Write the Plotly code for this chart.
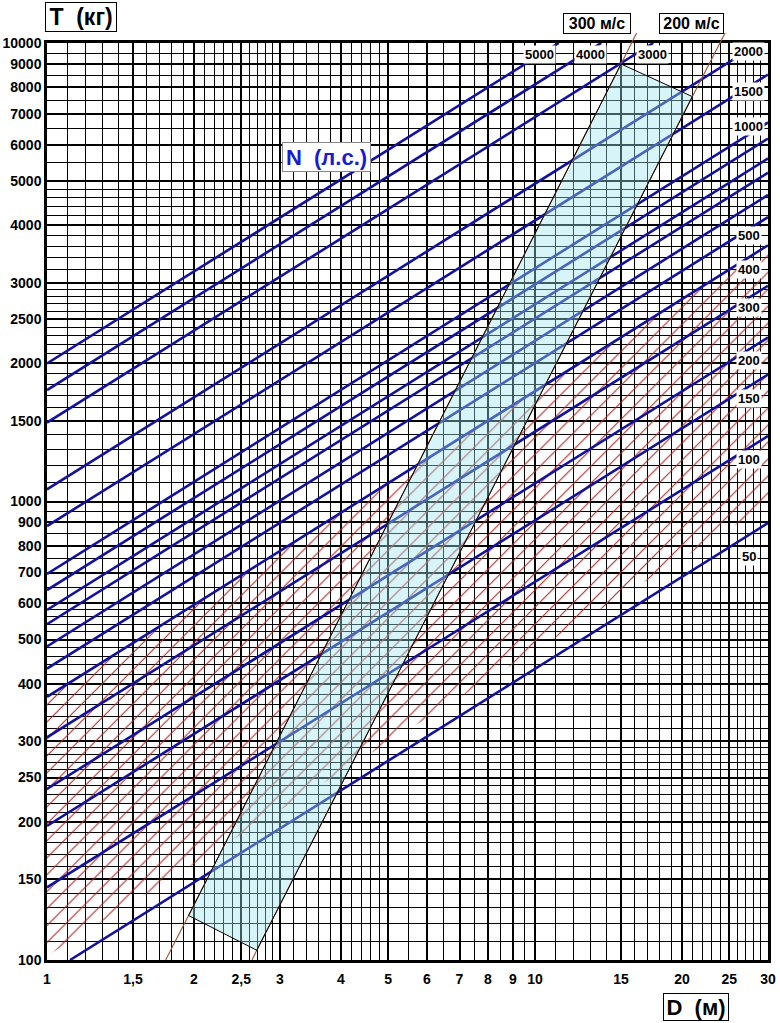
import numpy as np
import plotly.graph_objects as go

# ---------------- axis ticks / grid ----------------
x_major = [1, 1.5, 2, 2.5, 3, 4, 5, 6, 7, 8, 9, 10, 15, 20, 25, 30]
x_major_text = ['1', '1,5', '2', '2,5', '3', '4', '5', '6', '7', '8', '9', '10', '15', '20', '25', '30']
x_minor = [1.1, 1.2, 1.3, 1.4, 1.6, 1.7, 1.8, 1.9, 2.1, 2.2, 2.3, 2.4, 2.6, 2.7, 2.8, 2.9,
           3.2, 3.4, 3.6, 3.8, 4.2, 4.4, 4.6, 4.8, 5.5, 6.5, 7.5, 8.5, 9.5,
           11, 12, 13, 14, 16, 17, 18, 19, 21, 22, 23, 24, 26, 27, 28, 29]
y_major = [100, 150, 200, 250, 300, 400, 500, 600, 700, 800, 900, 1000, 1500, 2000, 2500,
           3000, 4000, 5000, 6000, 7000, 8000, 9000, 10000]
y_minor = [110, 120, 130, 140, 160, 170, 180, 190, 210, 220, 230, 240, 260, 270, 280, 290,
           320, 340, 360, 380, 420, 440, 460, 480, 520, 540, 560, 580, 650, 750, 850, 950,
           1100, 1200, 1300, 1400, 1600, 1700, 1800, 1900, 2100, 2200, 2300, 2400,
           2600, 2700, 2800, 2900, 3200, 3400, 3600, 3800, 4200, 4400, 4600, 4800,
           5500, 6500, 7500, 8500, 9500]

# ---------------- blue lines: N (hp) ----------------
N_values = [5000, 4000, 3000, 2000, 1500, 1000, 900, 800, 700, 600, 500, 400, 300, 200, 150, 100, 50]
blue_D0 = [1, 1, 1, 1, 1, 1, 1, 1, 1, 1, 1, 1, 1, 1, 1, 1, 1.115]
blue_T0 = [2000, 1750, 1486, 1063, 884, 695, 641, 580, 540, 483, 432, 375, 306, 236, 196, 144, 100]
blue_D1 = [11.18, 13.66, 17.46, 28.85, 30, 30, 30, 30, 30, 30, 30, 30, 30, 30, 30, 30, 30]
blue_T1 = [10000, 10000, 10000, 10000, 8535, 6710, 6189, 5600, 5214, 4663, 4171, 3621, 2954, 2279, 1892, 1390, 898]

# labels of the N lines
right_labels = ['2000', '1500', '1000', '500', '400', '300', '200', '150', '100', '50']
right_label_T = [9560, 7830, 6590, 3810, 3210, 2650, 2035, 1680, 1232, 760]
right_label_D = 27.4
top_labels = ['5000', '4000', '3000']
top_label_D = [10.2, 13.0, 17.4]
top_label_T = 9460

# ---------------- red hatched band ----------------
band_D = [1, 30]
band_low_T = [102, 985]
band_high_T = [375, 3621]

# ---------------- tip-speed lines and shaded region ----------------
v300_D = [1.75, 1.95, 15.0, 16.2]
v300_T = [100, 125, 9000, 10600]
v200_D = [2.63, 2.69, 21.0, 24.6]
v200_T = [100, 105, 7640, 10600]
region_D = [1.95, 15.0, 21.0, 2.69, 1.95]
region_T = [125, 9000, 7640, 105, 125]

FONT = "Liberation Sans, Arial, sans-serif"
BLUE = '#12129e'

W, H = 780, 1023
ML, MR, MT, MB = 47, 12, 20, 63
plot_h = H - MT - MB            # 940
y1_top_px = 43                  # top of the T axis (10000)
y2_top_px = 33                  # top of the overlay area
y1_dom = (960 - y1_top_px) / plot_h
y2_dom = (960 - y2_top_px) / plot_h
y2_top_log = 2 + 2 * (960 - y2_top_px) / (960 - y1_top_px)

fig = go.Figure()

# hatch band
hx = band_D + band_D[::-1] + [band_D[0]]
hy = band_low_T + band_high_T[::-1] + [band_low_T[0]]
fig.add_trace(go.Scatter(
    x=hx, y=hy, mode='lines', fill='toself',
    line=dict(color='rgba(0,0,0,0)', width=0),
    fillcolor='rgba(0,0,0,0)',
    fillpattern=dict(shape='/', size=12, solidity=0.09, fgcolor='#b02828',
                     bgcolor='rgba(0,0,0,0)', fillmode='replace'),
    hoverinfo='skip', showlegend=False, xaxis='x', yaxis='y'))

# N lines
for n, d0, t0, d1, t1 in zip(N_values, blue_D0, blue_T0, blue_D1, blue_T1):
    fig.add_trace(go.Scatter(x=[d0, d1], y=[t0, t1], mode='lines',
                             line=dict(color=BLUE, width=2.6),
                             name=str(n), showlegend=False, xaxis='x', yaxis='y'))

# shaded region (overlay subplot, drawn above)
fig.add_trace(go.Scatter(x=region_D, y=region_T, mode='lines', fill='toself',
                         fillcolor='rgba(155,228,238,0.4)',
                         line=dict(color='rgba(0,0,0,0)', width=0),
                         showlegend=False, xaxis='x2', yaxis='y2'))
for dd, tt in [(v300_D, v300_T), (v200_D, v200_T)]:
    fig.add_trace(go.Scatter(x=dd, y=tt, mode='lines',
                             line=dict(color='#a0522d', width=1.1),
                             showlegend=False, xaxis='x2', yaxis='y2'))
fig.add_trace(go.Scatter(x=region_D, y=region_T, mode='lines',
                         line=dict(color='black', width=1),
                         showlegend=False, xaxis='x2', yaxis='y2'))

annotations = []
for txt, t in zip(right_labels, right_label_T):
    annotations.append(dict(x=np.log10(right_label_D), y=np.log10(t), xref='x', yref='y',
                            text=txt, showarrow=False, bgcolor='white', borderpad=1,
                            font=dict(family=FONT, size=13, color='black', weight='bold')))
for txt, d in zip(top_labels, top_label_D):
    annotations.append(dict(x=np.log10(d), y=np.log10(top_label_T), xref='x', yref='y',
                            text=txt, showarrow=False, bgcolor='white', borderpad=1,
                            font=dict(family=FONT, size=13, color='black', weight='bold')))

def px_to_paper(px, py):
    return (px - ML) / (W - ML - MR), (960 - py) / plot_h

# text, centre x, top y (page px), font size, box width, box height
boxes = [
    ('T\u00a0\u00a0(кг)', 45, 2, 23, 70, 28),
    ('D\u00a0\u00a0(м)', 729, 993, 22, 64, 26),
    ('300 м/с', 631, 13, 16, 66, 19),
    ('200 м/с', 724, 13, 16, 63, 19),
]
for txt, px, py, fs, bw, bh in boxes:
    xp, yp = px_to_paper(px, py)
    annotations.append(dict(x=xp, y=yp, xref='paper', yref='paper', yanchor='top',
                            text=txt, showarrow=False, bgcolor='white', bordercolor='black',
                            borderwidth=1, borderpad=0, width=bw, height=bh,
                            font=dict(family=FONT, size=fs, color='black', weight='bold')))
xp, yp = px_to_paper(281.7, 142)
annotations.append(dict(x=xp, y=yp, xref='paper', yref='paper', yanchor='top',
                        text='N\u00a0\u00a0(л.с.)',
                        showarrow=False, bgcolor='white', bordercolor='#888888',
                        borderwidth=1, borderpad=0, width=87, height=28,
                        font=dict(family=FONT, size=22, color='#1a1ad0', weight='bold')))

tickfont = dict(family=FONT, size=14, color='black', weight='bold')
fig.update_layout(
    width=W, height=H,
    margin=dict(l=ML, r=MR, t=MT, b=MB, autoexpand=False),
    paper_bgcolor='white', plot_bgcolor='rgba(0,0,0,0)',
    showlegend=False,
    xaxis=dict(type='log', range=[0, np.log10(30)], domain=[0, 1], anchor='y',
               tickmode='array', tickvals=x_major, ticktext=x_major_text,
               tickfont=tickfont, ticks='', showgrid=True, gridcolor='black', gridwidth=2,
               showline=True, mirror=True, linecolor='black', linewidth=2.5,
               zeroline=False, ticklabelstandoff=4, automargin=False,
               minor=dict(tickmode='array', tickvals=x_minor, showgrid=True,
                          gridcolor='black', gridwidth=1, ticks='')),
    yaxis=dict(type='log', range=[2, 4], domain=[0, y1_dom], anchor='x',
               tickmode='array', tickvals=y_major, ticktext=[str(v) for v in y_major],
               tickfont=tickfont, ticks='', showgrid=True, gridcolor='black', gridwidth=2,
               showline=True, mirror=True, linecolor='black', linewidth=2.5,
               zeroline=False, ticklabelstandoff=0, automargin=False,
               minor=dict(tickmode='array', tickvals=y_minor, showgrid=True,
                          gridcolor='black', gridwidth=1, ticks='')),
    xaxis2=dict(type='log', range=[0, np.log10(30)], domain=[0, 1], anchor='y2',
                visible=False, showgrid=False, zeroline=False, automargin=False),
    yaxis2=dict(type='log', range=[2, y2_top_log], domain=[0, y2_dom], anchor='x2',
                visible=False, showgrid=False, zeroline=False, automargin=False),
    annotations=annotations,
)

fig.write_html("out.html", config={'displayModeBar': False},
               post_script="document.body.style.margin='0px';document.body.style.overflow='hidden';")
